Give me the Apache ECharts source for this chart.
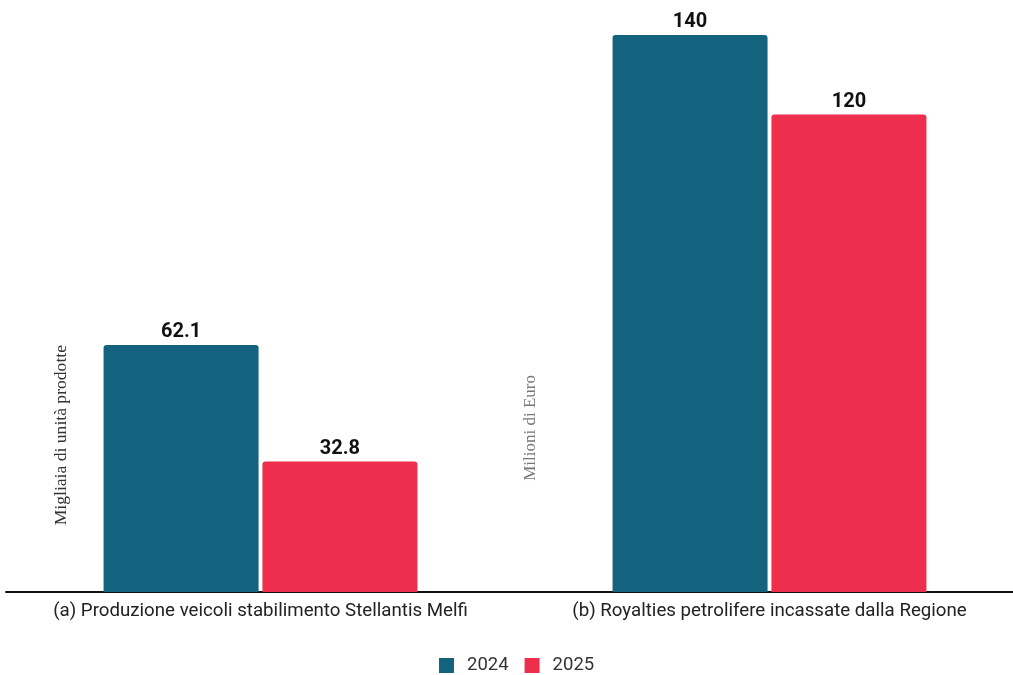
<!DOCTYPE html>
<html><head><meta charset="utf-8">
<script src="https://cdn.jsdelivr.net/npm/echarts@6/dist/echarts.min.js"></script>
<style>html,body{margin:0;padding:0;background:#fff}#c{width:1013px;height:675px}</style>
</head><body><div id="c"></div>
<script>
const categories = ["(a) Produzione veicoli stabilimento Stellantis Melfi", "(b) Royalties petrolifere incassate dalla Regione"];
const seriesNames = ["2024", "2025"];
const values2024 = [62.1, 140];
const values2025 = [32.8, 120];
const yNames = ["Migliaia di unità prodotte", "Milioni di Euro"];

const chart = echarts.init(document.getElementById('c'), null, {renderer: 'canvas'});
const labelStyle = {show: true, position: 'top', fontFamily: 'Roboto', fontWeight: 'bold', fontSize: 20, color: '#111', distance: 3};
chart.setOption({
  animation: false,
  textStyle: {fontFamily: 'Roboto'},
  grid: {left: 6, width: 1018, top: 35, bottom: 83, containLabel: false, outerBoundsMode: 'none'},
  xAxis: {
    type: 'category', data: categories,
    axisLine: {lineStyle: {color: '#111', width: 2}},
    axisTick: {show: false},
    axisLabel: {fontSize: 18.7, color: '#222', margin: 10, fontFamily: 'Roboto', interval: 0, hideOverlap: false}
  },
  yAxis: {type: 'value', min: 0, max: 140, show: false, splitLine: {show: false}},
  legend: {
    bottom: -5, left: 434, itemWidth: 15, itemHeight: 15, itemGap: 16,
    icon: 'rect', textStyle: {fontSize: 18.5, color: '#333', padding: [0, 0, 0, 8]}
  },
  graphic: [
    {type: 'text', left: 52, top: 345, rotation: Math.PI/2, style: {text: yNames[0], font: '17.6px "Liberation Serif", serif', fill: '#333'}},
    {type: 'text', left: 522, top: 375, rotation: Math.PI/2, style: {text: yNames[1], font: '17px "Liberation Serif", serif', fill: '#777'}}
  ],
  series: [
    {name: seriesNames[0], type: 'bar', data: values2024, barWidth: 155, barGap: '2.5%',
     itemStyle: {color: '#13627E', borderRadius: [3,3,0,0]}, label: labelStyle},
    {name: seriesNames[1], type: 'bar', data: values2025, barWidth: 155,
     itemStyle: {color: '#EE2E4D', borderRadius: [3,3,0,0]}, label: labelStyle}
  ]
});
</script></body></html>
